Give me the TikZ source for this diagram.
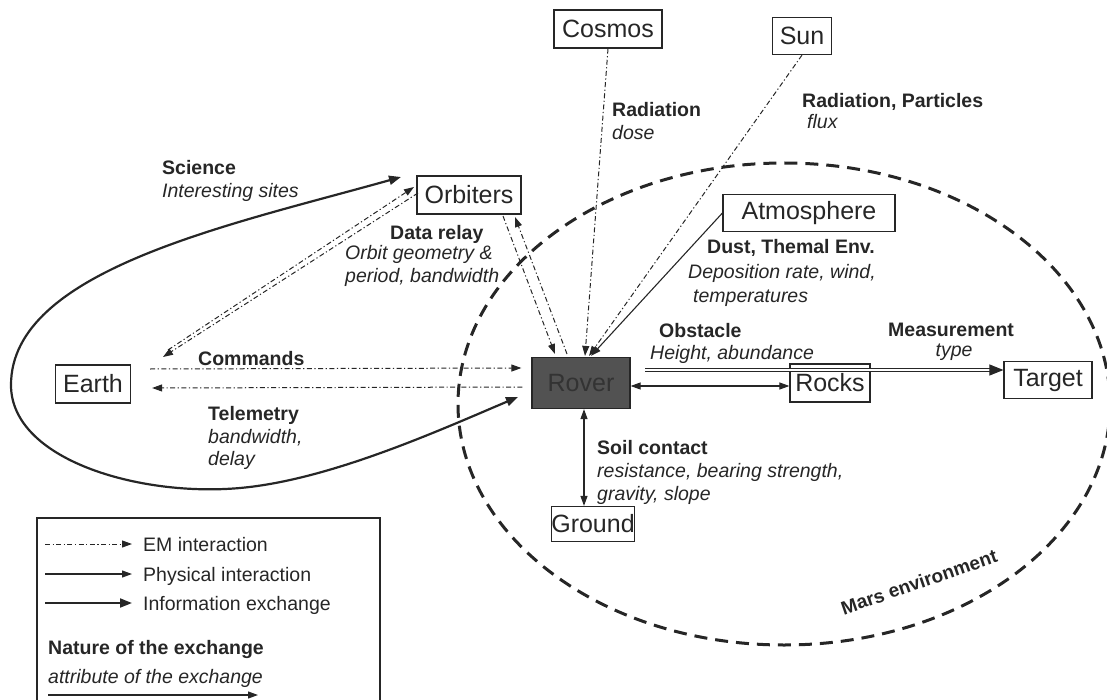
\documentclass[tikz,border=0pt]{standalone}
\usepackage{fontspec}
\setmainfont{Liberation Sans}
\usetikzlibrary{arrows.meta,calc}
\definecolor{ink}{HTML}{262626}
\definecolor{rovfill}{HTML}{525252}
\definecolor{rovtext}{HTML}{333333}
\begin{document}
\begin{tikzpicture}[x=1pt,y=-1pt,
  every node/.style={text=ink},
  box/.style={draw=ink,line width=1.2pt,inner sep=0pt,font=\fontsize{25}{30}\selectfont},
  lab/.style={font=\fontsize{19.5}{23}\selectfont,inner sep=0pt,anchor=base west},
  labb/.style={lab,font=\fontsize{19.5}{23}\selectfont\bfseries},
  labi/.style={lab,font=\fontsize{19.5}{23}\selectfont\itshape},
  em/.style={draw=ink,line width=1pt,dash pattern=on 5pt off 2.5pt on 1.2pt off 2.5pt,-{Triangle[length=10pt,width=7pt]}},
  phys/.style={draw=ink,line width=1.1pt,-{Triangle[length=10pt,width=7pt]}},
  info/.style={draw=ink,line width=2.2pt,-{Triangle[length=12pt,width=9pt]}},
  mars/.style={draw=ink,line width=3pt,dash pattern=on 13pt off 8pt},
]
\useasboundingbox (0,0) rectangle (1107,700);

% environment
\draw[mars] (784,404) ellipse [x radius=326, y radius=241];
\node[font=\fontsize{19}{23}\selectfont\bfseries,rotate=19,inner sep=0pt] (marslab) at (919,582) {Mars environment};

% boxes
\node[box,minimum width=108pt,minimum height=38pt] (cosmos) at (608,29) {Cosmos};
\node[box,minimum width=59pt,minimum height=37pt] (sun) at (802,36) {Sun};
\node[box,minimum width=104pt,minimum height=38pt] (orb) at (469,195) {Orbiters};
\node[box,minimum width=172pt,minimum height=37pt] (atm) at (809,213) {Atmosphere};
\node[box,minimum width=75pt,minimum height=38pt] (earth) at (93,384) {Earth};
\node[box,fill=rovfill,text=rovtext,minimum width=98pt,minimum height=51pt] (rover) at (581,383) {Rover};
\node[box,minimum width=80pt,minimum height=38pt] (rocks) at (830,383) {Rocks};
\node[box,minimum width=88pt,minimum height=37pt] (target) at (1048,380) {Target};
\node[box,minimum width=78pt,minimum height=35pt] (ground) at (593,524) {Ground};

% EM links
\draw[em] ($(earth.east)+(19,-15)$) coordinate (cmdA) -- ($(rover.west)+(-10,-15)$) coordinate (cmdB);
\draw[em] ($(rover.west)+(-9,4)$) coordinate (telA) -- ($(earth.east)+(21,4)$) coordinate (telB);
\coordinate (oeA) at (168,350); \coordinate (oeB) at (414,187);
\coordinate (oeC) at (418,193); \coordinate (oeD) at (163,357);
\draw[em] (oeA) -- (oeB);
\draw[em] (oeC) -- (oeD);
\coordinate (orA) at (503,216); \coordinate (orB) at (555,354);
\coordinate (orC) at (567,354); \coordinate (orD) at (515,217);
\draw[em] (orA) -- (orB);
\draw[em] (orC) -- (orD);
\draw[em] (cosmos.south) -- ($(rover.north)+(4,-1)$);
\draw[em] (sun.south) -- ($(rover.north)+(8,-1)$);
\draw[phys] (atm.west) -- ($(rover.north)+(10,-1)$);

% physical
\draw[phys,{Triangle[length=10pt,width=7pt]}-{Triangle[length=10pt,width=7pt]}] ($(rover.east)+(0,3)$) -- ($(rover.east -| rocks.west)+(0,3)$);
\draw[phys,{Triangle[length=10pt,width=7pt]}-{Triangle[length=10pt,width=7pt]}] ($(rover.south)+(3,0)$) -- ($(rover.south |- ground.north)+(3,0)$);

% measurement
\coordinate (measA) at (645,370);
\draw[draw=ink,double,double distance=2pt,line width=1.1pt,-{Triangle[length=14pt,width=11pt]}] (measA) -- (measA -| target.west);

% science loop
\coordinate (sciR) at (518,397);
\coordinate (sciO) at (401,177);
\draw[info,{Triangle[length=12pt,width=9pt]}-{Triangle[length=12pt,width=9pt]}] (sciR) .. controls (440,430) and (330,480) .. (240,488)
  .. controls (140,497) and (11,460) .. (11,385)
  .. controls (11,270) and (230,225) .. (sciO);

% labels
\node[labb] (l1) at (162,175) {Science};
\node[labi] (l2) at (162,198) {Interesting sites};
\node[labb] (l3) at (612,117) {Radiation};
\node[labi] (l4) at (612,140) {dose};
\node[labb] (l5) at (802,108) {Radiation, Particles};
\node[labi] (l6) at (807,129) {flux};
\node[labb] (l7) at (390,240) {Data relay};
\node[labi] (l8) at (345,260) {Orbit geometry \&};
\node[labi] (l9) at (345,283) {period, bandwidth};
\node[labb] (l10) at (707,254) {Dust, Themal Env.};
\node[labi] (l11) at (688,279) {Deposition rate, wind,};
\node[labi] (l12) at (693,302) {temperatures};
\node[labb] (l13) at (659,337) {Obstacle};
\node[labi] (l14) at (650,359) {Height, abundance};
\node[labb] (l15) at (888,336) {Measurement};
\node[labi,anchor=base] (l16) at (954,356) {type};
\node[labb] (l17) at (198,365) {Commands};
\node[labb] (l18) at (208,420) {Telemetry};
\node[labi] (l19) at (208,443) {bandwidth,};
\node[labi] (l20) at (208,465) {delay};
\node[labb] (l21) at (597,454) {Soil contact};
\node[labi] (l22) at (597,477) {resistance, bearing strength,};
\node[labi] (l23) at (597,500) {gravity, slope};

% legend
\draw[draw=ink,line width=1.2pt] (37,702) coordinate (lgA) -- (37,518) -- (380,518) -- (380,702) coordinate (lgB);
\coordinate (k1a) at (45,544); \coordinate (k1b) at (132,544);
\coordinate (k2a) at (45,574); \coordinate (k2b) at (132,574);
\coordinate (k3a) at (45,603); \coordinate (k3b) at (132,603);
\coordinate (k4a) at (48,695); \coordinate (k4b) at (258,695);
\draw[em] (k1a) -- (k1b);
\draw[phys] (k2a) -- (k2b);
\draw[info,line width=1.8pt] (k3a) -- (k3b);
\draw[phys] (k4a) -- (k4b);
\node[lab] (t1) at (143,551) {EM interaction};
\node[lab] (t2) at (143,581) {Physical interaction};
\node[lab] (t3) at (143,610) {Information exchange};
\node[labb] (t4) at (48,654) {Nature of the exchange};
\node[labi] (t5) at (48,683) {attribute of the exchange};
\end{tikzpicture}
\end{document}
